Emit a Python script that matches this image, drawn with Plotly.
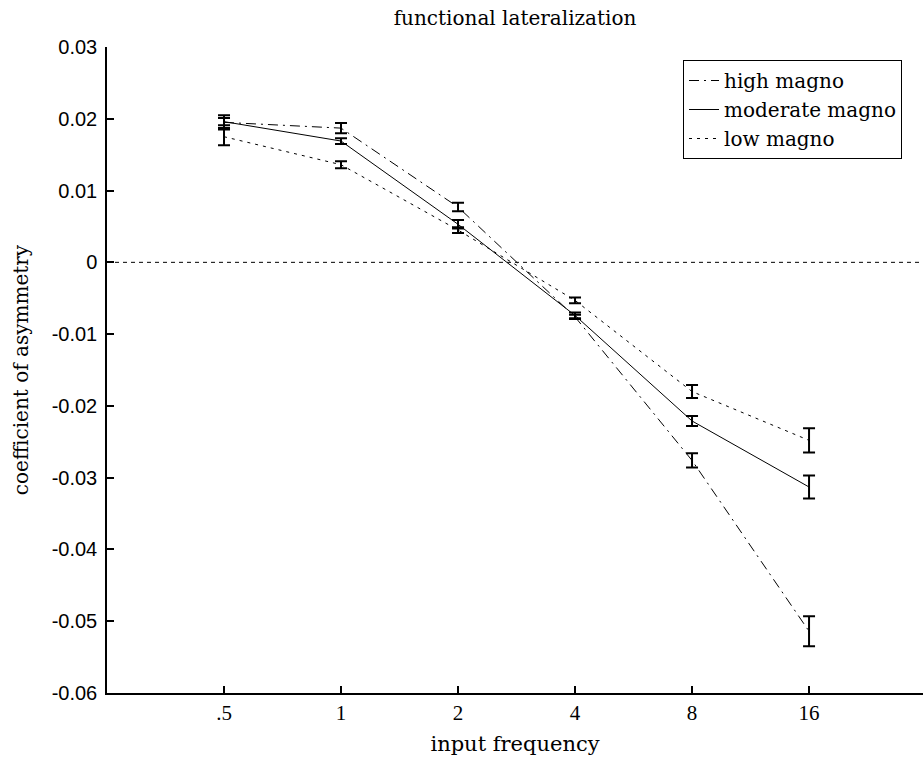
import plotly.graph_objects as go

freq_labels = [".5", "1", "2", "4", "8", "16"]
positions = [1, 2, 3, 4, 5, 6]

high_vals = [0.0195, 0.0187, 0.0077, -0.0076, -0.0276, -0.0514]
high_err = [0.0010, 0.0007, 0.0006, 0.0003, 0.0010, 0.0021]

mod_vals = [0.0196, 0.0169, 0.0053, -0.0074, -0.0221, -0.0313]
mod_err = [0.0005, 0.0004, 0.0006, 0.0004, 0.0007, 0.0016]

low_vals = [0.0175, 0.0136, 0.0045, -0.0053, -0.0180, -0.0248]
low_err = [0.0012, 0.0005, 0.0004, 0.0004, 0.0009, 0.0017]

serif = "DejaVu Serif, Liberation Serif, serif"
tserif = "Liberation Serif, Times New Roman, serif"
sans = "Liberation Sans, Arial, sans-serif"

series = [
    ("high magno", high_vals, high_err, "10px,5px,2px,5px"),
    ("moderate magno", mod_vals, mod_err, "solid"),
    ("low magno", low_vals, low_err, "3px,5px"),
]

fig = go.Figure()
for name, vals, errs, dash in series:
    fig.add_trace(go.Scatter(
        x=positions, y=vals, name=name, mode="lines",
        line=dict(color="black", width=1, dash=dash),
        error_y=dict(type="data", array=errs, visible=True,
                     color="black", thickness=2, width=6),
    ))

fig.add_shape(type="line", xref="paper", yref="y", x0=0, x1=1, y0=0, y1=0,
              line=dict(color="black", width=1, dash="4px,4px"))

fig.update_layout(
    width=923, height=764,
    margin=dict(l=107, r=0, t=47, b=71),
    paper_bgcolor="white", plot_bgcolor="white",
    showlegend=True,
    title=dict(text="functional lateralization", x=0.558,
               xanchor="center", y=1 - 18 / 764, yanchor="middle",
               font=dict(family=serif, size=20, color="black")),
    legend=dict(x=(683 - 107) / 816, xanchor="left",
                y=1 - (60 - 47) / 646, yanchor="top",
                bordercolor="black", borderwidth=1, bgcolor="white",
                font=dict(family=serif, size=20, color="black"),
                tracegroupgap=0, itemwidth=30),
    xaxis=dict(
        range=[0, 6.974], tickmode="array", tickvals=positions, ticktext=freq_labels,
        showline=True, linecolor="black", linewidth=1.5, mirror=False,
        ticks="inside", ticklen=7, tickcolor="black", tickwidth=1.5,
        showgrid=False, zeroline=False,
        tickfont=dict(family=tserif, size=21, color="black"),
        title=dict(text="input frequency", font=dict(family=serif, size=21, color="black"),
                   standoff=12),
    ),
    yaxis=dict(
        range=[-0.06, 0.03], tickvals=[-0.06, -0.05, -0.04, -0.03, -0.02, -0.01, 0, 0.01, 0.02, 0.03],
        ticktext=["-0.06", "-0.05", "-0.04", "-0.03", "-0.02", "-0.01", "0", "0.01", "0.02", "0.03"],
        showline=True, linecolor="black", linewidth=1.5, mirror=False,
        ticks="inside", ticklen=7, tickcolor="black", tickwidth=1.5,
        showgrid=False, zeroline=False, ticklabelstandoff=4,
        tickfont=dict(family=sans, size=20, color="black"),
        title=dict(text="coefficient of asymmetry", font=dict(family=serif, size=20, color="black"),
                   standoff=18),
    ),
)

fig.write_html("out.html")
